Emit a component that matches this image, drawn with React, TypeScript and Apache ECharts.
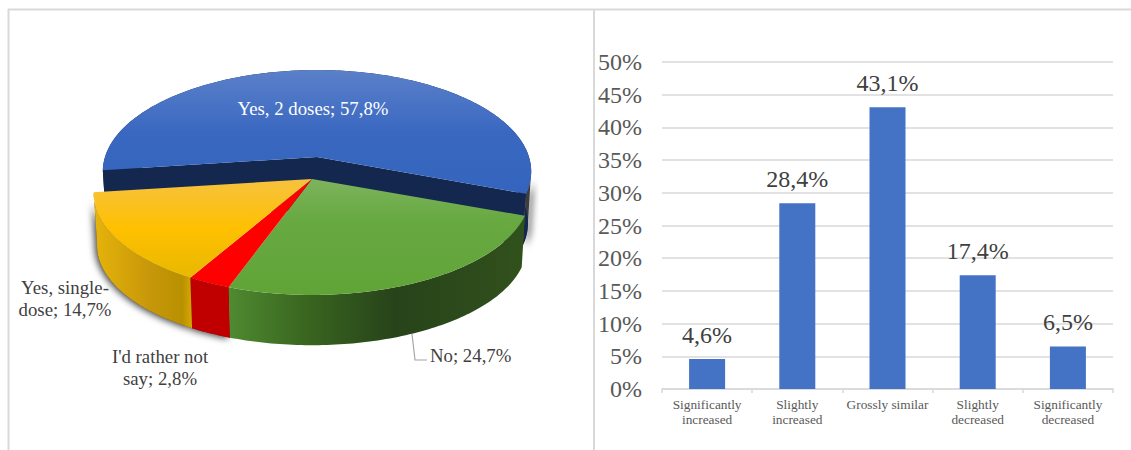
import React, { useEffect, useRef } from "react";
import * as echarts from "echarts";

// Vaccination answers (pie)
const pieNames = ["Yes, 2 doses", "No", "I'd rather not\nsay", "Yes, single-\ndose"];
const pieValues = [57.8, 24.7, 2.8, 14.7];

// Change in perception (bars)
const barCategories = [
  "Significantly\nincreased",
  "Slightly\nincreased",
  "Grossly similar",
  "Slightly\ndecreased",
  "Significantly\ndecreased",
];
const barValues = [4.6, 28.4, 43.1, 17.4, 6.5];

const pct = (v: number) => v.toFixed(1).replace(".", ",") + "%";
const SERIF = '"Liberation Serif", "Times New Roman", serif';

const vGrad = (stops: [number, string][]) => ({
  type: "linear", x: 0, y: 0, x2: 0, y2: 1,
  colorStops: stops.map(([offset, color]) => ({ offset, color })),
});
const hGrad = (stops: [number, string][]) => ({
  type: "linear", x: 0, y: 0, x2: 1, y2: 0,
  colorStops: stops.map(([offset, color]) => ({ offset, color })),
});

// Per-slice look: where it sits in the tilted disc, fills and label placement.
// shadowSpan is the share of the rim (0..1 along the slice) that casts a soft shadow.
const sliceLooks = [
  {
    apex: [317, 157], b: 212, cut: true, shadowSpan: [0.96, 1], shadowDx: 3, wallZ: 0,
    top: vGrad([[0, "#5b80c9"], [0.5, "#3a68c1"], [1, "#3464bd"]]),
    wall: "#14284f",
    label: { x: 313, y: 108, align: "center", fill: "#ffffff" },
  },
  {
    apex: [312, 179], b: 216, cut: false, shadowSpan: null, shadowDx: 0, wallZ: 1,
    top: vGrad([[0, "#7db35d"], [0.35, "#68a942"], [1, "#60a437"]]),
    wall: hGrad([[0, "#4f8a30"], [0.25, "#3a6720"], [0.56, "#27431a"], [1, "#31511c"]]),
    label: { x: 430, y: 355, align: "left", fill: "#404040" },
  },
  {
    apex: [312, 179], b: 216, cut: false, shadowSpan: [0, 1], shadowDx: -2, wallZ: 1,
    top: "#ff0000",
    wall: "#c00000",
    label: { x: 160, y: 367, align: "center", fill: "#404040" },
  },
  {
    apex: [312, 179], b: 216, cut: false, shadowSpan: [0, 1], shadowDx: -2, wallZ: 1,
    top: vGrad([[0, "#f6c23f"], [0.5, "#ffc000"], [1, "#e8b800"]]),
    wall: hGrad([[0, "#e6b40a"], [0.55, "#c8980a"], [0.9, "#b89000"], [1, "#d9a800"]]),
    label: { x: 65, y: 298, align: "center", fill: "#404040" },
  },
];

const START_ANGLE = 262.5;
const TILT = 99.4;
const PERSPECTIVE = 0.1428;
const DEPTH = 52;
const WALL_SHRINK = 0.985;

// Projects a point of the unit disc (clock angle, radius) on the tilted plane
function project(look: any, deg: number, r = 1): [number, number] {
  const t = (deg * Math.PI) / 180;
  const u = Math.sin(t) * r;
  const v = Math.cos(t) * r;
  const w = 1 + PERSPECTIVE * v;
  return [look.apex[0] + (look.b * u) / w, look.apex[1] - (TILT * v) / w];
}
// Same point, dropped to the underside of the disc
function lower(look: any, p: [number, number]): [number, number] {
  return [
    look.apex[0] + (p[0] - look.apex[0]) * WALL_SHRINK,
    look.apex[1] + (p[1] - look.apex[1]) * WALL_SHRINK + DEPTH,
  ];
}

function renderSlice(params: any, api: any) {
  const i = params.dataIndex;
  const value = api.value(0);
  const look = sliceLooks[i];
  const before = pieValues.slice(0, i).reduce((s, v) => s + v, 0);
  const total = pieValues.reduce((s, v) => s + v, 0);
  const a0 = START_ANGLE + (before / total) * 360;
  const a1 = a0 + (value / total) * 360;

  const arcBetween = (from: number, to: number) => {
    const pts: [number, number][] = [];
    const steps = Math.max(4, Math.ceil(to - from));
    for (let k = 0; k <= steps; k++) pts.push(project(look, from + ((to - from) * k) / steps));
    return pts;
  };
  const wallOf = (pts: [number, number][]) => [...pts, ...pts.map((p) => lower(look, p)).reverse()];

  const arc = arcBetween(a0, a1);
  const apex: [number, number] = [look.apex[0], look.apex[1]];
  const wallPts = wallOf(arc);

  const children: any[] = [];
  if (look.shadowSpan) {
    const span = a1 - a0;
    children.push({
      type: "polygon", z2: 0, silent: true,
      shape: { points: wallOf(arcBetween(a0 + span * look.shadowSpan[0], a0 + span * look.shadowSpan[1])) },
      style: {
        fill: "#3c3c3c",
        shadowBlur: 7,
        shadowColor: "rgba(0,0,0,0.75)",
        shadowOffsetX: look.shadowDx,
        shadowOffsetY: 1,
      },
    });
  }
  children.push({
    type: "polygon", z2: look.wallZ, silent: true,
    shape: { points: wallPts },
    style: { fill: look.wall },
  });
  if (look.cut) {
    const first = arc[0];
    const last = arc[arc.length - 1];
    const apexLow = lower(look, apex);
    children.push({
      type: "polygon", z2: look.wallZ, silent: true,
      shape: { points: [apex, first, lower(look, first), apexLow] },
      style: { fill: look.wall },
    });
    children.push({
      type: "polygon", z2: look.wallZ, silent: true,
      shape: { points: [apex, last, lower(look, last), apexLow] },
      style: { fill: look.wall },
    });
  }
  children.push({
    type: "polygon", z2: 2, silent: true,
    shape: { points: [apex, ...arc] },
    style: { fill: look.top },
  });
  children.push({
    type: "text", z2: 5, silent: true,
    style: {
      text: `${pieNames[i]}; ${pct(value)}`,
      x: look.label.x,
      y: look.label.y,
      align: look.label.align,
      verticalAlign: "middle",
      fill: look.label.fill,
      font: `18.8px ${SERIF}`,
      lineHeight: 22,
    },
  });
  return { type: "group", children };
}

const FRAME = "#d9d9d9";

export default function App() {
  const ref = useRef<HTMLDivElement>(null);
  useEffect(() => {
    document.body.style.margin = "0";
    const chart = echarts.init(ref.current!, undefined, { renderer: "svg" });
    chart.setOption({
      animation: false,
      backgroundColor: "#ffffff",
      grid: { left: 662, right: 18, top: 62, bottom: 61, containLabel: false },
      xAxis: {
        type: "category",
        data: barCategories,
        axisLine: { lineStyle: { color: FRAME, width: 1.5 } },
        axisTick: { show: true, length: 4, lineStyle: { color: FRAME, width: 1.5 } },
        axisLabel: {
          color: "#595959",
          fontFamily: SERIF,
          fontSize: 13.33,
          lineHeight: 15,
          margin: 8,
          interval: 0,
        },
      },
      yAxis: {
        type: "value",
        min: 0,
        max: 50,
        interval: 5,
        axisLine: { show: false },
        axisTick: { show: false },
        splitLine: { lineStyle: { color: FRAME, width: 1.5 } },
        axisLabel: {
          formatter: "{value}%",
          color: "#595959",
          fontFamily: SERIF,
          fontSize: 24,
          margin: 20,
          padding: [0, 0, 2, 0],
        },
      },
      graphic: [
        { type: "line", silent: true, shape: { x1: 8, y1: 9.5, x2: 1131, y2: 9.5 }, style: { stroke: FRAME, lineWidth: 2 } },
        { type: "line", silent: true, shape: { x1: 8.5, y1: 9, x2: 8.5, y2: 450 }, style: { stroke: FRAME, lineWidth: 2 } },
        { type: "line", silent: true, shape: { x1: 594, y1: 9, x2: 594, y2: 450 }, style: { stroke: FRAME, lineWidth: 2 } },
        {
          type: "polyline", silent: true,
          shape: { points: [[412, 334], [415, 360], [427, 360]] },
          style: { stroke: "#a6a6a6", lineWidth: 1.2, fill: "none" },
        },
      ],
      series: [
        {
          type: "custom",
          coordinateSystem: "none",
          silent: true,
          data: pieValues,
          renderItem: renderSlice,
        },
        {
          type: "bar",
          data: barValues,
          barWidth: 36,
          silent: true,
          itemStyle: { color: "#4472c4" },
          label: {
            show: true,
            position: "top",
            distance: 12,
            formatter: (p: any) => pct(p.value),
            color: "#404040",
            fontFamily: SERIF,
            fontSize: 24,
          },
        },
      ],
    });
    return () => chart.dispose();
  }, []);
  return <div ref={ref} style={{ position: "fixed", left: 0, top: 0, width: 1131, height: 450 }} />;
}
